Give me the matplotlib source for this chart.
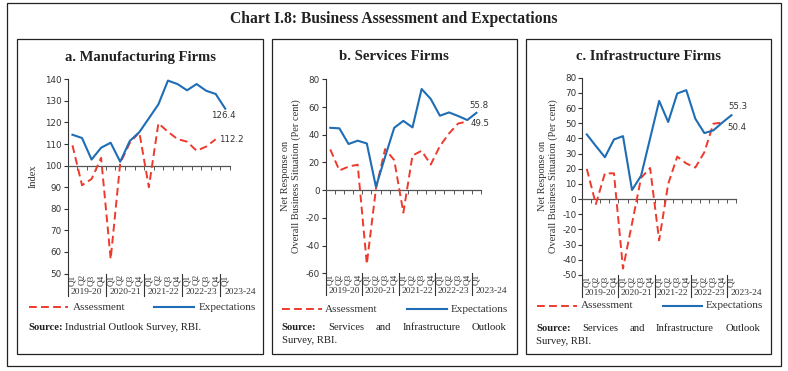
import matplotlib
matplotlib.use("Agg")
import matplotlib.pyplot as plt
import matplotlib.transforms as mtransforms
from matplotlib.lines import Line2D
from matplotlib.patches import Rectangle
import numpy as np

# ---------------- data ----------------
quarters = ['Q1', 'Q2', 'Q3', 'Q4'] * 4 + ['Q1']
years = ['2019-20', '2020-21', '2021-22', '2022-23', '2023-24']

mfg_assessment = [109.4, 90.9, 93.8, 103.6, 56.7, 101.1, 110.5, 115.5, 90.0,
                  119.6, 115.7, 112.3, 111.1, 106.9, 108.8, 112.2]
mfg_expectations = [114.3, 112.8, 102.8, 108.3, 110.6, 101.8, 111.4, 115.5, 121.9,
                    128.4, 139.4, 137.8, 134.9, 137.8, 134.7, 133.2, 126.4]

svc_assessment = [29.4, 14.2, 17.0, 18.4, -53.3, 1.0, 29.6, 21.7, -16.2,
                  25.0, 28.4, 18.5, 31.8, 40.9, 48.1, 49.5]
svc_expectations = [45.0, 44.6, 33.3, 35.7, 33.7, 2.4, 24.0, 45.0, 50.0,
                    45.3, 73.0, 65.8, 53.7, 56.1, 53.5, 50.6, 55.8]

inf_assessment = [19.9, -3.3, 17.0, 17.0, -45.8, -16.0, 14.0, 20.5, -27.2,
                  10.0, 28.0, 23.5, 20.8, 30.9, 49.7, 50.4]
inf_expectations = [42.6, 35.0, 27.6, 39.3, 41.5, 6.0, 15.4, 40.0, 64.7,
                    50.8, 69.6, 71.8, 53.0, 43.5, 45.3, 50.5, 55.3]

# ---------------- style ----------------
W, H = 788, 371
RED = '#EE3A2C'
BLUE = '#1E6DB5'
SERIF = 'Liberation Serif'
SANS = 'DejaVu Sans'

fig = plt.figure(figsize=(W / 100, H / 100), dpi=100)


def fx(x):
    return x / W


def fy(y):
    return 1 - y / H


def get_r():
    fig.canvas.draw()
    return fig.canvas.get_renderer()


def fit_width(t, target):
    r = get_r()
    w = t.get_window_extent(r).width
    t.set_fontsize(t.get_fontsize() * target / w)


# outer frame
fig.add_artist(Rectangle((fx(6.7), fy(365.7)), fx(780.5) - fx(6.7), fy(3) - fy(365.7),
                         transform=fig.transFigure, fill=False, lw=0.9, ec='#222222'))

t = fig.text(0.5, fy(19), 'Chart I.8: Business Assessment and Expectations', ha='center', va='center',
             family=SERIF, weight='bold', fontsize=11, color='#222222')
fit_width(t, 327)


def panel(box, axpx, ylim, yticks, base, assess, expect, title, title_w, ylabel, ylabel_x,
          ann_e, ann_a, leg_y, leg, src_lines, src_justify):
    bx0, by0, bx1, by1 = box
    fig.add_artist(Rectangle((fx(bx0), fy(by1)), fx(bx1) - fx(bx0), fy(by0) - fy(by1),
                             transform=fig.transFigure, fill=False, lw=0.9, ec='#222222'))
    tt = fig.text(fx((bx0 + bx1) / 2), fy(57), title, ha='center', va='center',
                  family=SERIF, weight='bold', fontsize=10.5, color='#222222')
    fit_width(tt, title_w)

    x0, x1, ytop, ybot = axpx
    ax = fig.add_axes([fx(x0), fy(ybot), fx(x1) - fx(x0), fy(ytop) - fy(ybot)])
    ax.set_facecolor('none')
    n = len(quarters)
    ax.set_xlim(-0.5, n - 0.5)
    ax.set_ylim(*ylim)
    ax.set_yticks(yticks)
    ax.set_yticklabels([str(v) for v in yticks], family=SANS, fontsize=6.3, color='#333333')
    ax.tick_params(axis='y', length=3.2, width=0.8, pad=1, color='#333333')
    ax.set_xticks(np.arange(-0.5, n, 1))
    ax.set_xticklabels([])
    ax.tick_params(axis='x', length=3, width=0.7, direction='out', color='#555555')
    for s in ['top', 'right']:
        ax.spines[s].set_visible(False)
    ax.spines['bottom'].set_position(('data', base))
    ax.spines['bottom'].set_color('#555555')
    ax.spines['bottom'].set_linewidth(0.9)
    ax.spines['left'].set_color('#333333')
    ax.spines['left'].set_linewidth(0.8)

    xs_a = np.arange(len(assess))
    xs_e = np.arange(len(expect))
    ax.plot(xs_a, assess, color=RED, lw=1.4, dashes=(4, 2.2), zorder=3)
    ax.plot(xs_e, expect, color=BLUE, lw=1.5, zorder=4)

    # annotations for last values
    ax.annotate(f'{expect[-1]:.1f}', (xs_e[-1], expect[-1]), xytext=ann_e[0],
                textcoords='offset pixels', ha=ann_e[1], va='center', family=SANS,
                fontsize=6.2, color='#333333')
    ax.annotate(f'{assess[-1]:.1f}', (xs_a[-1], assess[-1]), xytext=ann_a[0],
                textcoords='offset pixels', ha=ann_a[1], va='center', family=SANS,
                fontsize=6.2, color='#333333')

    # category axis
    trans = mtransforms.blended_transform_factory(ax.transData, fig.transFigure)
    for i, q in enumerate(quarters):
        ax.text(i, fy(ybot + 0.8), q, transform=trans, rotation=90, ha='center', va='top',
                family=SERIF, fontsize=6.6, color='#333333', clip_on=False)
    seps = [-0.5, 3.5, 7.5, 11.5, 15.5]
    for s in seps:
        ax.add_line(Line2D([s, s], [fy(ybot), fy(ybot + 22)], transform=trans,
                           color='#333333', lw=0.8, clip_on=False))
    for k, yr in enumerate(years):
        if k < 4:
            ax.text(4 * k + 1.5, fy(ybot + 18), yr, transform=trans, ha='center', va='center',
                    family=SERIF, fontsize=6.8, color='#333333', clip_on=False)
        else:
            ax.text(15.95, fy(ybot + 18), yr, transform=trans, ha='left', va='center',
                    family=SERIF, fontsize=6.8, color='#333333', clip_on=False)

    # y label
    fig.text(fx(ylabel_x), fy((ytop + ybot) / 2), ylabel, rotation=90, ha='center', va='center',
             family=SERIF, fontsize=7.5, color='#333333', linespacing=1.25)

    # legend
    (r0, r1, ta), (b0, b1, tb) = leg
    fig.add_artist(Line2D([fx(r0), fx(r1)], [fy(leg_y)] * 2, transform=fig.transFigure,
                          color=RED, lw=1.4, dashes=(4, 2.2)))
    fig.text(fx(ta), fy(leg_y), 'Assessment', ha='left', va='center', family=SERIF,
             fontsize=8, color='#333333')
    fig.add_artist(Line2D([fx(b0), fx(b1)], [fy(leg_y)] * 2, transform=fig.transFigure,
                          color=BLUE, lw=1.5))
    fig.text(fx(tb), fy(leg_y), 'Expectations', ha='left', va='center', family=SERIF,
             fontsize=8, color='#333333')

    # source
    sl, sr = src_justify
    for li, (words, ypx, justify) in enumerate(src_lines):
        if justify:
            arts = []
            for wi, w in enumerate(words):
                bold = (li == 0 and wi == 0)
                a = fig.text(fx(sl), fy(ypx), w, ha='left', va='center', family=SERIF,
                             fontsize=7.7, weight='bold' if bold else 'normal', color='#222222')
                arts.append(a)
            r = get_r()
            widths = [a.get_window_extent(r).width for a in arts]
            gap = (sr - sl - sum(widths)) / (len(arts) - 1)
            x = sl
            for a, w in zip(arts, widths):
                a.set_x(fx(x))
                x += w + gap
        else:
            if li == 0:
                a = fig.text(fx(sl), fy(ypx), words[0], ha='left', va='center', family=SERIF,
                             fontsize=7.7, weight='bold', color='#222222')
                r = get_r()
                w0 = a.get_window_extent(r).width
                fig.text(fx(sl + w0 + 2.2), fy(ypx), ' '.join(words[1:]), ha='left', va='center',
                         family=SERIF, fontsize=7.7, color='#222222')
            else:
                fig.text(fx(sl), fy(ypx), ' '.join(words), ha='left', va='center', family=SERIF,
                         fontsize=7.7, color='#222222')
    return ax


panel((17.3, 39.3, 263, 354), (67.7, 230, 79.3, 273.5), (50, 140), list(range(50, 141, 10)), 100,
      mfg_assessment, mfg_expectations, 'a. Manufacturing Firms', 152, 'Index', 33,
      ((-2, -7), 'center'), ((3, 0), 'left'), 307.3,
      ((29.3, 68.3, 72.7), (154, 194, 198.3)),
      [(['Source:', 'Industrial', 'Outlook', 'Survey,', 'RBI.'], 327.7, False)], (28.3, 202))

panel((271.7, 39.3, 516.7, 354), (325.7, 481, 79.3, 273.3), (-60, 80), list(range(-60, 81, 20)), 0,
      svc_assessment, svc_expectations, 'b. Services Firms', 110,
      'Net Response on\nOverall Business Situation (Per cent)', 291,
      ((3, 7), 'center'), ((3.5, -1.5), 'left'), 309,
      ((281.7, 321.7, 325), (406.7, 446.7, 450.7)),
      [(['Source:', 'Services', 'and', 'Infrastructure', 'Outlook'], 328, True),
       (['Survey,', 'RBI.'], 340.7, False)], (281.7, 506.7))

panel((525.7, 39.3, 770.7, 354), (582.3, 736, 77.7, 275), (-50, 80), list(range(-50, 81, 10)), 0,
      inf_assessment, inf_expectations, 'c. Infrastructure Firms', 146,
      'Net Response on\nOverall Business Situation (Per cent)', 548,
      ((6, 9), 'center'), ((4.5, -4.6), 'left'), 306,
      ((536.7, 576.7, 580.7), (662.7, 701.7, 705.7)),
      [(['Source:', 'Services', 'and', 'Infrastructure', 'Outlook'], 328.3, True),
       (['Survey,', 'RBI.'], 341, False)], (536.5, 760))

fig.savefig('out.png', dpi=100)
